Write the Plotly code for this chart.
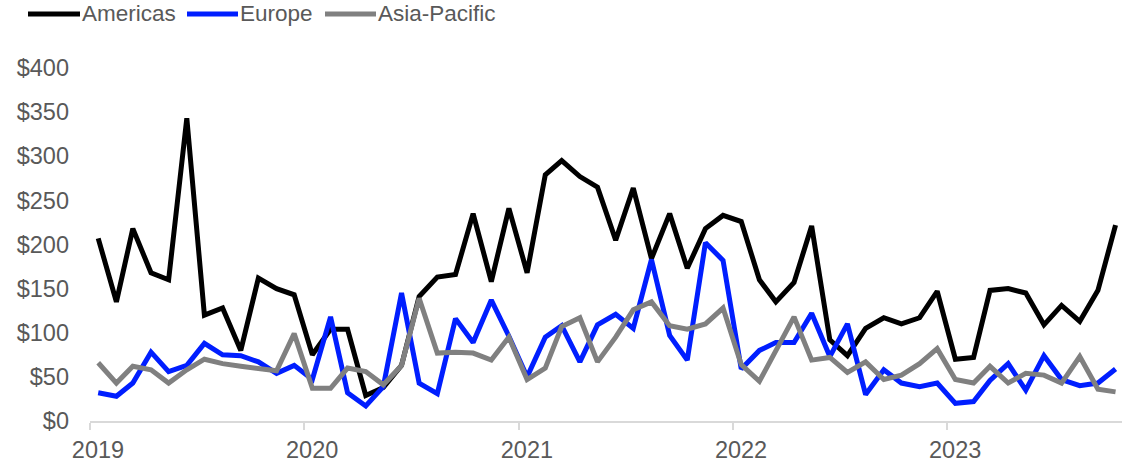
import pandas as pd
import plotly.graph_objects as go

# Monthly periods Jan 2019 .. Oct 2023 (points placed mid-month)
months = pd.date_range(start="2019-01-01", periods=58, freq="MS") + pd.Timedelta(days=14)

americas = [207, 135, 218, 168, 160, 343, 120, 128, 80, 162, 150, 143,
            75, 104, 104, 29, 38, 63, 141, 163, 166, 235, 158, 241,
            168, 279, 295, 277, 265, 205, 264, 184, 235, 173, 218, 233,
            226, 160, 135, 157, 221, 92, 74, 105, 117, 110, 117, 147,
            70, 72, 148, 150, 145, 109, 131, 113, 148, 222]

europe = [32, 28, 43, 78, 56, 63, 88, 75, 74, 67, 54, 63,
          47, 118, 32, 17, 39, 145, 43, 31, 116, 89, 137, 96,
          50, 95, 108, 67, 109, 121, 105, 183, 97, 69, 202, 182,
          59, 80, 89, 89, 122, 73, 110, 30, 58, 43, 39, 43,
          20, 22, 46, 65, 35, 74, 47, 40, 43, 59]

asia_pacific = [66, 43, 62, 58, 43, 58, 70, 65, 62, 59, 57, 99,
                37, 37, 60, 56, 41, 63, 139, 77, 78, 77, 69, 95,
                47, 60, 107, 117, 67, 95, 126, 135, 108, 104, 110, 128,
                64, 45, 81, 118, 69, 72, 55, 67, 47, 52, 65, 82,
                47, 43, 62, 43, 54, 52, 43, 73, 36, 33]

series_names = ["Americas", "Europe", "Asia-Pacific"]
series_values = [americas, europe, asia_pacific]
series_colors = ["#000000", "#001EFF", "#808080"]

year_ticks = ["2019-01-01", "2020-01-01", "2021-01-01", "2022-01-01", "2023-01-01"]
year_labels = ["2019", "2020", "2021", "2022", "2023"]
y_ticks = [0, 50, 100, 150, 200, 250, 300, 350, 400]
y_labels = ["$0", "$50", "$100", "$150", "$200", "$250", "$300", "$350", "$400"]

W, H = 1122, 464
ML, MR, MT, MB = 90, 0, 68, 43
PW, PH = W - ML - MR, H - MT - MB

FONT = "Arial, Liberation Sans, sans-serif"
TXT = "#595959"

fig = go.Figure()
for name, vals, col in zip(series_names, series_values, series_colors):
    fig.add_trace(go.Scatter(x=months, y=vals, name=name, mode="lines",
                             line=dict(color=col, width=5),
                             showlegend=False))

# manual legend (pixel layout converted to paper coordinates)
def px_x(px):
    return (px - ML) / PW

def px_y(py):
    return (H - MB - py) / PH

legend_items = [(28, 80, 83), (187, 238, 241), (325, 376, 379)]
for (x0, x1, tx), name, col in zip(legend_items, series_names, series_colors):
    fig.add_shape(type="line", xref="paper", yref="paper",
                  x0=px_x(x0), x1=px_x(x1), y0=px_y(14), y1=px_y(14),
                  line=dict(color=col, width=5))
    fig.add_annotation(xref="paper", yref="paper", x=px_x(tx - 3), y=px_y(14),
                       text=name, showarrow=False, xanchor="left", yanchor="middle",
                       font=dict(family=FONT, size=22.5, color=TXT))

fig.update_layout(
    width=W, height=H,
    margin=dict(l=ML, r=MR, t=MT, b=MB, pad=0),
    paper_bgcolor="white", plot_bgcolor="white",
    font=dict(family=FONT, size=23.5, color=TXT),
    showlegend=False,
)
fig.update_xaxes(
    type="date", range=["2019-01-01", "2023-10-26"],
    tickvals=year_ticks, ticktext=year_labels,
    ticks="outside", ticklen=7, tickwidth=2, tickcolor="#D9D9D9",
    showline=True, linecolor="#D9D9D9", linewidth=2,
    showgrid=False, zeroline=False,
    ticklabelshift=8,
    tickfont=dict(family=FONT, size=23.5, color=TXT),
)
fig.update_yaxes(
    range=[0, 400], tickvals=y_ticks, ticktext=y_labels,
    showgrid=False, zeroline=False, showline=False, ticks="",
    ticklabelstandoff=20,
    tickfont=dict(family=FONT, size=23.5, color=TXT),
)

fig.write_html("out.html")
